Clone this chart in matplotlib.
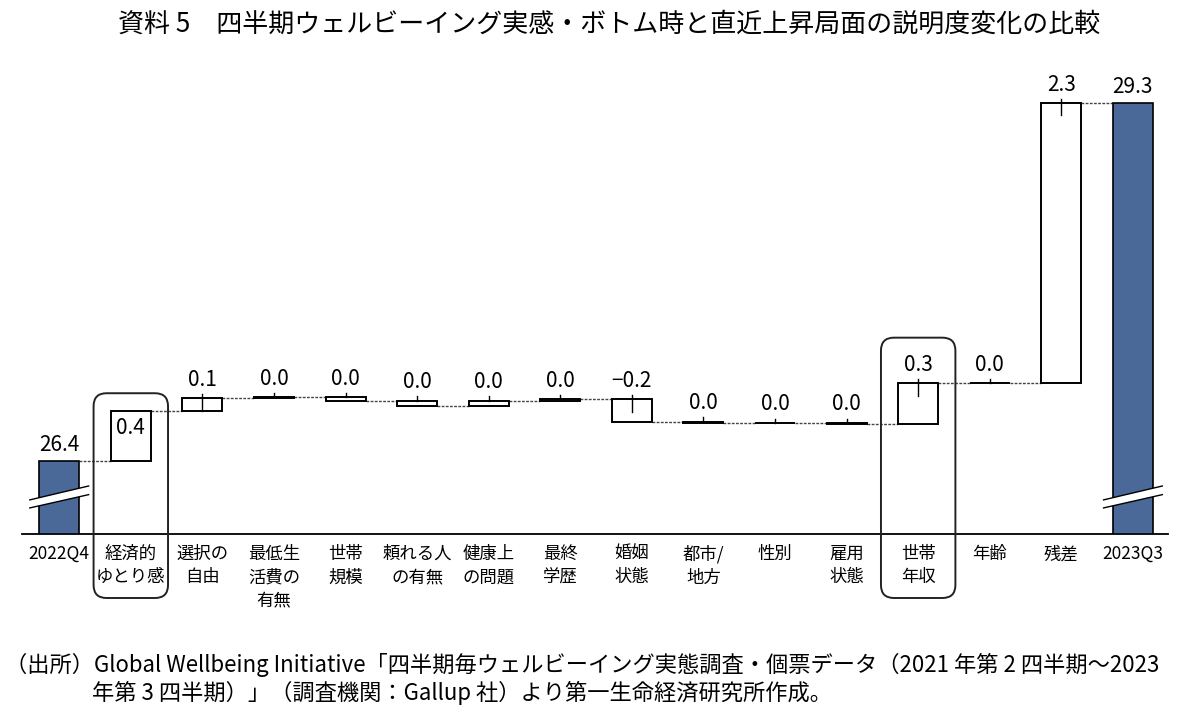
import matplotlib
matplotlib.use("Agg")
import matplotlib.pyplot as plt
from matplotlib.patches import FancyBboxPatch, Rectangle
from matplotlib.transforms import IdentityTransform

plt.rcParams['font.family'] = ['Noto Sans CJK JP', 'DejaVu Sans']

# ---- data ----
categories = ['2022Q4', '経済的\nゆとり感', '選択の\n自由', '最低生\n活費の\n有無', '世帯\n規模',
              '頼れる人\nの有無', '健康上\nの問題', '最終\n学歴', '婚姻\n状態', '都市/\n地方',
              '性別', '雇用\n状態', '世帯\n年収', '年齢', '残差', '2023Q3']
start_value = 26.4
end_value = 29.3
contributions = [0.41, 0.10, 0.01, -0.03, -0.04, 0.04, 0.01, -0.18, -0.01, 0.00,
                 -0.01, 0.33, 0.00, 2.27]
highlighted = ['経済的\nゆとり感', '世帯\n年収']

title = '資料 5　四半期ウェルビーイング実感・ボトム時と直近上昇局面の説明度変化の比較'
note1 = '（出所）Global Wellbeing Initiative「四半期毎ウェルビーイング実態調査・個票データ（2021 年第 2 四半期～2023'
note2 = '年第 3 四半期）」（調査機関：Gallup 社）より第一生命経済研究所作成。'

BLUE = '#4A6898'
YMIN, YMAX = 25.81, 29.6
W = 0.56
VFS = 15  # value label font size

fig = plt.figure(figsize=(11.81, 7.23), dpi=100)
ax = fig.add_axes([22/1181, 1-534/723, (1168-22)/1181, (534-66)/723])
ax.set_xlim(-0.52, len(categories) - 0.51)
ax.set_ylim(YMIN, YMAX)
for s in ['top', 'left', 'right']:
    ax.spines[s].set_visible(False)
ax.spines['bottom'].set_linewidth(1.3)
ax.set_yticks([])
ax.set_xticks(range(len(categories)))
ax.set_xticklabels(categories, fontsize=12.5, linespacing=1.38)
ax.tick_params(axis='x', length=0, pad=8)
for lbl in ax.get_xticklabels():
    lbl.set_verticalalignment('top')


def fmt(v):
    s = f"{v:.1f}"
    if s == '-0.0':
        s = '0.0'
    return s.replace('-', '−')


def draw_break(x):
    # two slanted parallel lines with white gap (axis break)
    x0, x1 = x - 0.42, x + 0.42
    up = (YMIN + 0.275, YMIN + 0.39)
    lo = (YMIN + 0.21, YMIN + 0.32)
    ax.fill([x0, x1, x1, x0], [up[0], up[1], lo[1], lo[0]], color='white', zorder=5, lw=0)
    ax.plot([x0, x1], up, color='black', lw=1.0, zorder=6, solid_capstyle='butt')
    ax.plot([x0, x1], lo, color='black', lw=1.0, zorder=6, solid_capstyle='butt')


# start bar
ax.bar(0, start_value - YMIN, bottom=YMIN, width=W, color=BLUE, edgecolor='black', lw=1.2, zorder=3)
draw_break(0)
ax.text(0, start_value + 0.04, fmt(start_value), ha='center', va='bottom', fontsize=VFS)

level = start_value
prev_right = 0 + W / 2
for i, v in enumerate(contributions, start=1):
    new = level + v
    lo, hi = min(level, new), max(level, new)
    # connector
    ax.plot([prev_right, i - W / 2], [level, level], color='#444444', lw=1.0,
            ls=(0, (2, 1)), zorder=2)
    ax.add_patch(Rectangle((i - W / 2, lo), W, hi - lo, facecolor='white',
                           edgecolor='black', lw=1.4, zorder=3))
    if categories[i] == '経済的\nゆとり感':
        ax.text(i, hi - 0.05, fmt(v), ha='center', va='top', fontsize=VFS, zorder=4)
    else:
        ax.plot([i, i], [hi + 0.035, hi - 0.1 if hi - lo > 0.1 else hi], color='black',
                lw=1.0, zorder=4)
        ax.text(i, hi + 0.06, fmt(v), ha='center', va='bottom', fontsize=VFS)
    prev_right = i + W / 2
    level = new

n = len(categories) - 1
ax.plot([prev_right, n - W / 2], [level, level], color='#444444', lw=1.0,
        ls=(0, (2, 1)), zorder=2)
ax.bar(n, end_value - YMIN, bottom=YMIN, width=W, color=BLUE, edgecolor='black', lw=1.2, zorder=3)
draw_break(n)
ax.text(n, end_value + 0.04, fmt(end_value), ha='center', va='bottom', fontsize=VFS)

# highlight rounded boxes
fig_h = 723
level = start_value
tops = {}
for i, v in enumerate(contributions, start=1):
    tops[categories[i]] = max(level, level + v)
    level += v
for name in highlighted:
    i = categories.index(name)
    top_val = tops[name] + (0.14 if name == '経済的\nゆとり感' else 0.37)
    (xa, ya) = ax.transData.transform((i - 0.52, top_val))
    (xb, _) = ax.transData.transform((i + 0.52, top_val))
    ybottom = fig_h - 598
    p = FancyBboxPatch((xa, ybottom), xb - xa, ya - ybottom,
                       boxstyle='round,pad=0,rounding_size=13', transform=IdentityTransform(),
                       fill=False, edgecolor='#222222', lw=1.4, zorder=10)
    fig.add_artist(p)

fig.text(118/1181, 1 - 24/723, title, ha='left', va='center', fontsize=18.7)
fig.text(5/1181, 1 - 665/723, note1, ha='left', va='center', fontsize=16)
fig.text(92/1181, 1 - 693/723, note2, ha='left', va='center', fontsize=16)

fig.savefig('out.png', dpi=100, facecolor='white')
